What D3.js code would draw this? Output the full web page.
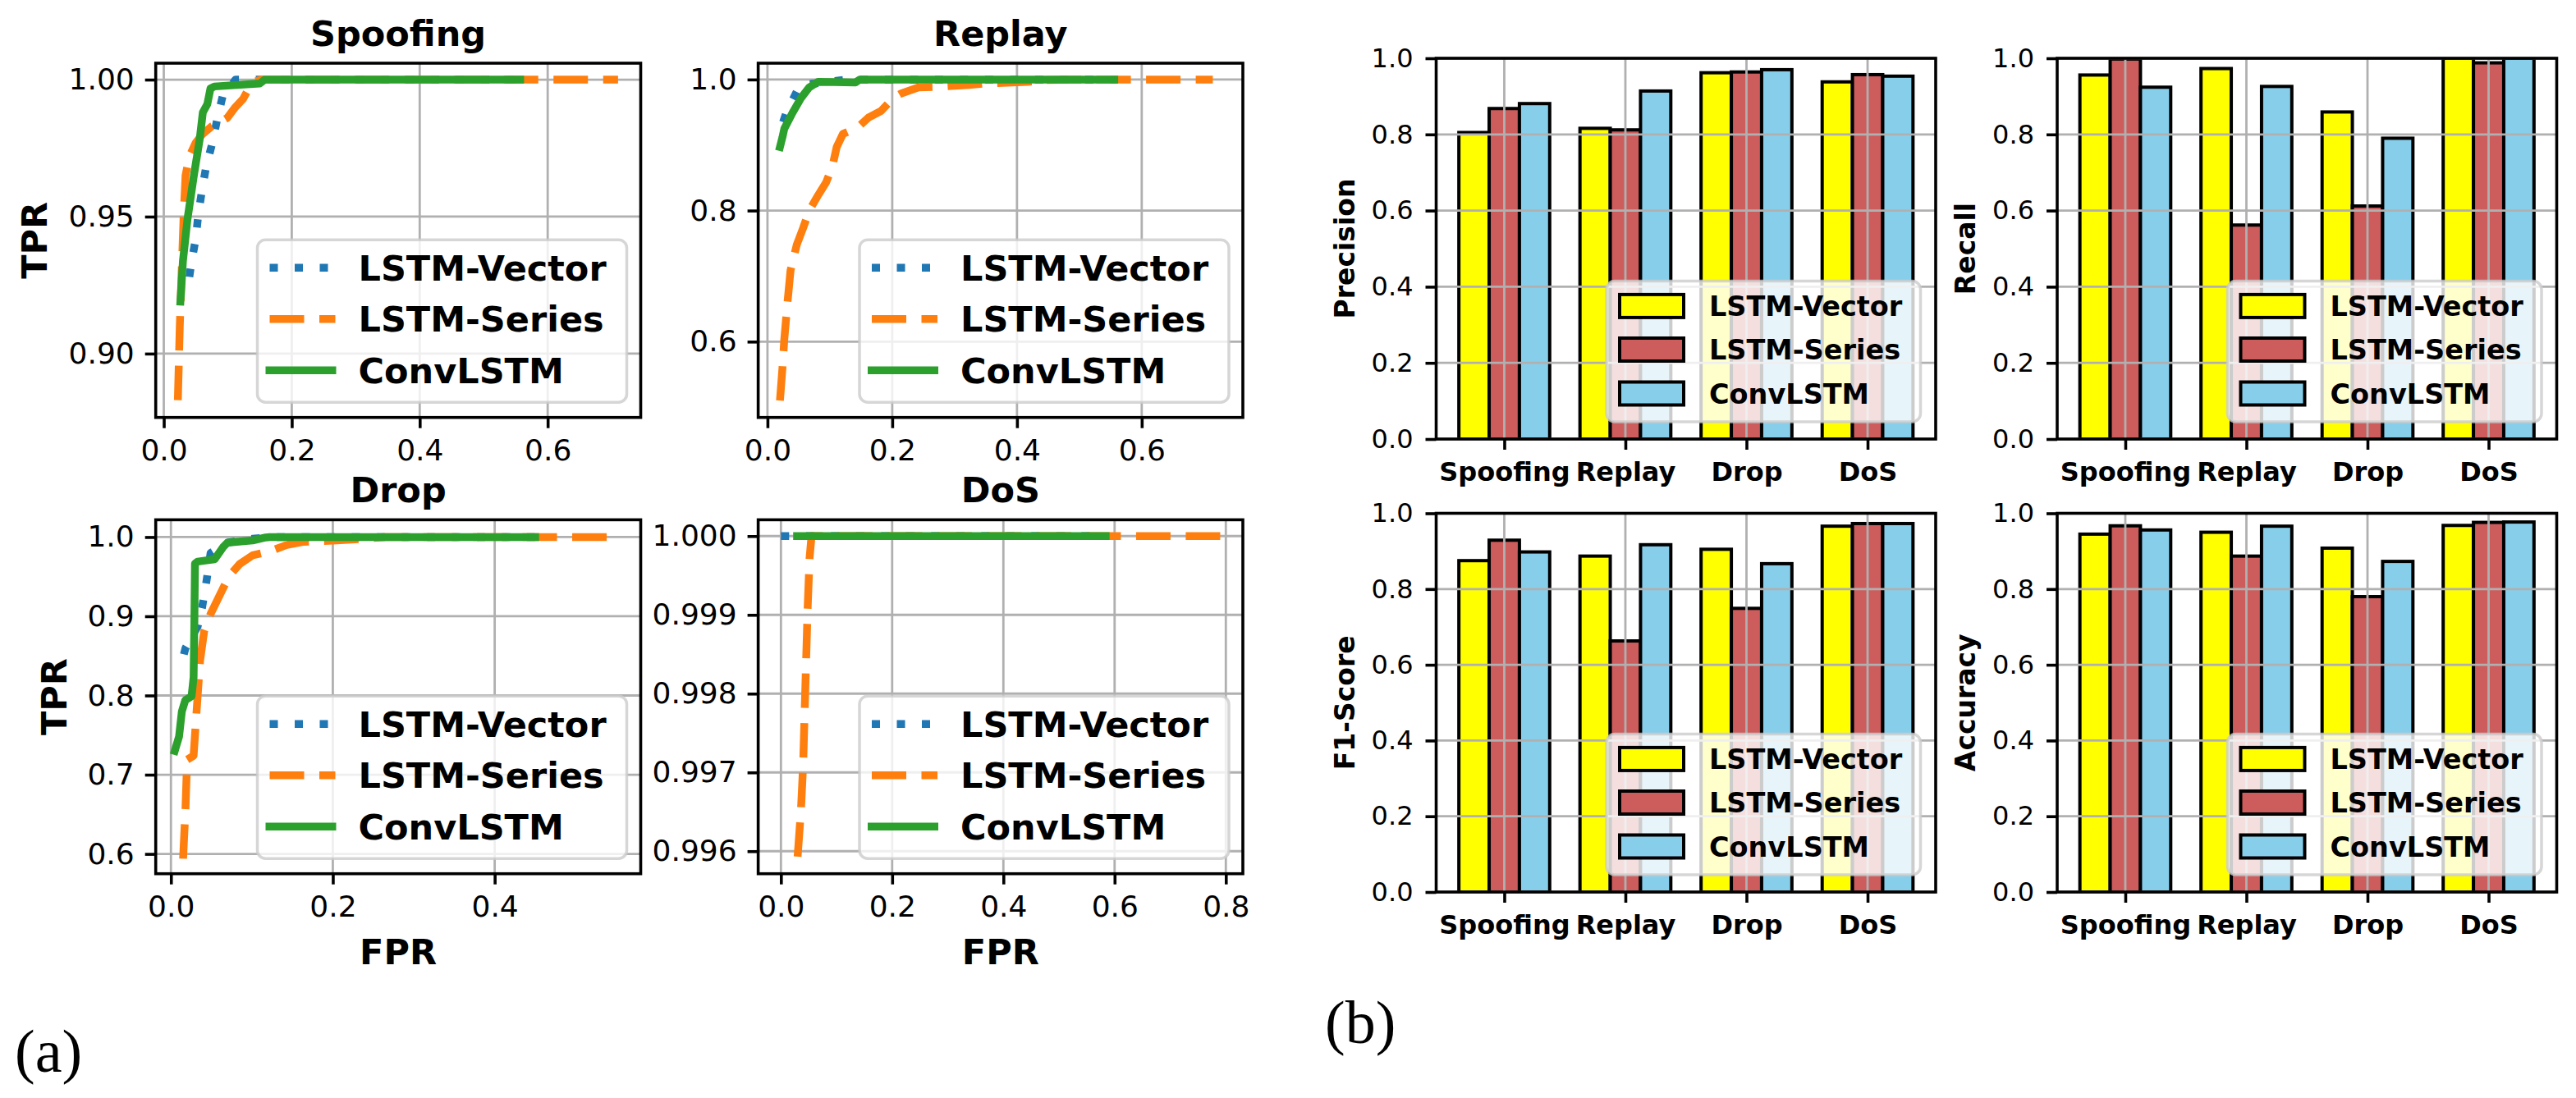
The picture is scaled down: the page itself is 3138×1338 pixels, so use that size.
<!DOCTYPE html>
<html><head><meta charset="utf-8">
<script src="https://cdn.jsdelivr.net/npm/d3@7"></script>
<style>body{margin:0;background:#fff} svg{display:block}</style>
</head><body>
<svg id="chart" width="3138" height="1338"></svg>
<script>
// ---------------- DATA ----------------
const models = ["LSTM-Vector", "LSTM-Series", "ConvLSTM"];
const attacks = ["Spoofing", "Replay", "Drop", "DoS"];

// ROC curves: [FPR, TPR]
const spoofingVector = [[0.040,0.928],[0.043,0.933],[0.050,0.942],[0.054,0.951],[0.060,0.960],[0.066,0.968],[0.076,0.977],[0.083,0.985],[0.092,0.994],[0.100,0.996],[0.112,1.0],[0.565,1.0]];
const spoofingSeries = [[0.022,0.883],[0.025,0.910],[0.028,0.930],[0.031,0.950],[0.034,0.965],[0.040,0.972],[0.050,0.977],[0.060,0.980],[0.075,0.983],[0.085,0.984],[0.099,0.986],[0.112,0.990],[0.124,0.993],[0.138,0.999],[0.152,1.0],[0.710,1.0]];
const spoofingConv = [[0.026,0.919],[0.030,0.934],[0.037,0.949],[0.047,0.965],[0.056,0.978],[0.061,0.988],[0.068,0.991],[0.073,0.9968],[0.079,0.9975],[0.150,0.9986],[0.158,1.0],[0.557,1.0]];

const replayVector = [[0.025,0.935],[0.030,0.949],[0.037,0.962],[0.045,0.978],[0.051,0.989],[0.060,0.992],[0.085,0.995],[0.128,1.0],[0.560,1.0]];
const replaySeries = [[0.020,0.510],[0.024,0.560],[0.027,0.604],[0.032,0.659],[0.037,0.709],[0.047,0.748],[0.057,0.773],[0.067,0.800],[0.081,0.823],[0.094,0.843],[0.104,0.867],[0.111,0.897],[0.121,0.917],[0.145,0.927],[0.162,0.942],[0.182,0.952],[0.202,0.972],[0.215,0.979],[0.242,0.988],[0.276,0.989],[0.323,0.9916],[0.350,0.994],[0.417,0.9965],[0.444,0.999],[0.485,1.0],[0.714,1.0]];
const replayConv = [[0.020,0.897],[0.024,0.912],[0.027,0.925],[0.040,0.949],[0.054,0.972],[0.067,0.988],[0.081,0.9965],[0.141,0.9955],[0.148,1.0],[0.556,1.0]];

const dropVector = [[0.016,0.852],[0.018,0.860],[0.033,0.887],[0.0385,0.911],[0.044,0.945],[0.049,0.980],[0.070,0.993],[0.101,0.998],[0.127,1.0],[0.463,1.0]];
const dropSeries = [[0.015,0.594],[0.018,0.658],[0.020,0.719],[0.028,0.724],[0.031,0.770],[0.036,0.844],[0.041,0.881],[0.049,0.903],[0.059,0.924],[0.072,0.951],[0.085,0.966],[0.101,0.977],[0.122,0.982],[0.143,0.990],[0.163,0.994],[0.205,0.9957],[0.242,0.998],[0.2625,1.0],[0.554,1.0]];
const dropConv = [[0.0047,0.730],[0.010,0.748],[0.0135,0.780],[0.0177,0.794],[0.0255,0.799],[0.028,0.823],[0.029,0.897],[0.0297,0.9665],[0.033,0.969],[0.054,0.972],[0.065,0.988],[0.070,0.993],[0.101,0.9957],[0.117,0.9995],[0.122,1.0],[0.450,1.0]];

const dosVector = [[0.0,1.0],[0.584,1.0]];
const dosSeries = [[0.030,0.99593],[0.036,0.99652],[0.040,0.99711],[0.044,0.99810],[0.048,0.99908],[0.0515,0.99972],[0.055,1.0],[0.790,1.0]];
const dosConv = [[0.029,1.0],[0.584,1.0]];

// ROC tick values
const spoofingYTicks = [0.90, 0.95, 1.00];
const replayYTicks = [0.6, 0.8, 1.0];
const dropYTicks = [0.6, 0.7, 0.8, 0.9, 1.0];
const dosYTicks = [0.996, 0.997, 0.998, 0.999, 1.000];
const fprTicksA = [0.0, 0.2, 0.4, 0.6];
const fprTicksDrop = [0.0, 0.2, 0.4];
const fprTicksDos = [0.0, 0.2, 0.4, 0.6, 0.8];

// Bar metrics: rows = models, columns = attacks
const precision = [[0.805,0.816,0.962,0.938],[0.868,0.812,0.964,0.957],[0.881,0.914,0.970,0.953]];
const recall    = [[0.956,0.973,0.859,1.000],[0.998,0.562,0.612,0.988],[0.924,0.926,0.790,1.000]];
const f1score   = [[0.875,0.887,0.905,0.966],[0.929,0.663,0.749,0.973],[0.898,0.917,0.867,0.973]];
const accuracy  = [[0.945,0.950,0.908,0.968],[0.967,0.887,0.780,0.976],[0.956,0.966,0.873,0.977]];
const barYTicks = [0.0, 0.2, 0.4, 0.6, 0.8, 1.0];

// ---------------- STYLE ----------------
const FONT = "DejaVu Sans";
const lineColors = ["#1f77b4", "#ff7f0e", "#2ca02c"];
const lineDash = ["10,20.5", "42,18.5", null];
const barColors = ["#ffff00", "#cd5c5c", "#87ceeb"];
const GRID = "#b0b0b0";

const svg = d3.select("#chart");
const defs = svg.append("defs");

function styleAxis(sel, size, weight) {
  sel.attr("font-family", FONT).attr("font-size", size).attr("font-weight", weight || "normal");
  sel.select(".domain").remove();
  sel.selectAll(".tick line").attr("stroke", "#000").attr("stroke-width", 3.6);
  sel.selectAll(".tick text").attr("fill", "#000");
}

function lineLegend(g, lx, ly) {
  g.append("rect").attr("x", lx).attr("y", ly).attr("width", 450).attr("height", 198).attr("rx", 10)
    .attr("fill", "#fff").attr("fill-opacity", 0.8).attr("stroke", "#cccccc").attr("stroke-opacity", 0.8).attr("stroke-width", 3.5);
  const offs = [34, 96.5, 159];
  models.forEach((m, i) => {
    const yy = ly + offs[i];
    const l = g.append("line").attr("x1", lx + (i === 2 ? 10 : 15)).attr("x2", lx + (i === 2 ? 96 : 95))
      .attr("y1", yy).attr("y2", yy).attr("stroke", lineColors[i]).attr("stroke-width", 9.5);
    if (lineDash[i]) l.attr("stroke-dasharray", lineDash[i]);
    g.append("text").attr("x", lx + 123).attr("y", yy + 15.5).text(m)
      .attr("font-family", FONT).attr("font-weight", "bold").attr("font-size", 43);
  });
}

function rocPanel(c) {
  const g = svg.append("g");
  const x = d3.scaleLinear().domain(c.xDomain).range([c.x0, c.x1]);
  const y = d3.scaleLinear().domain(c.yDomain).range([c.y1, c.y0]);
  g.append("g").selectAll("line").data(c.xTicks).join("line")
    .attr("x1", d => x(d)).attr("x2", d => x(d)).attr("y1", c.y0).attr("y2", c.y1)
    .attr("stroke", GRID).attr("stroke-width", 2.8);
  g.append("g").selectAll("line").data(c.yTicks).join("line")
    .attr("y1", d => y(d)).attr("y2", d => y(d)).attr("x1", c.x0).attr("x2", c.x1)
    .attr("stroke", GRID).attr("stroke-width", 2.8);
  const cid = "clip-" + c.name;
  defs.append("clipPath").attr("id", cid).append("rect")
    .attr("x", c.x0).attr("y", c.y0).attr("width", c.x1 - c.x0).attr("height", c.y1 - c.y0);
  const line = d3.line().x(d => x(d[0])).y(d => y(d[1]));
  c.series.forEach((s, i) => {
    const p = g.append("path").attr("d", line(s)).attr("fill", "none")
      .attr("stroke", lineColors[i]).attr("stroke-width", 9.5)
      .attr("stroke-linejoin", "round").attr("clip-path", `url(#${cid})`)
      .attr("stroke-linecap", lineDash[i] ? "butt" : "square");
    if (lineDash[i]) p.attr("stroke-dasharray", lineDash[i]);
  });
  g.append("rect").attr("x", c.x0).attr("y", c.y0).attr("width", c.x1 - c.x0).attr("height", c.y1 - c.y0)
    .attr("fill", "none").attr("stroke", "#000").attr("stroke-width", 3.6);
  const ya = g.append("g").attr("transform", `translate(${c.x0},0)`)
    .call(d3.axisLeft(y).tickValues(c.yTicks).tickFormat(d3.format(c.yFmt)).tickSize(13).tickPadding(13));
  styleAxis(ya, 36);
  const xa = g.append("g").attr("transform", `translate(0,${c.y1})`)
    .call(d3.axisBottom(x).tickValues(c.xTicks).tickFormat(d3.format(".1f")).tickSize(13).tickPadding(14));
  styleAxis(xa, 36);
  g.append("text").attr("x", (c.x0 + c.x1) / 2).attr("y", c.y0 - 21.5).attr("text-anchor", "middle")
    .attr("font-family", FONT).attr("font-weight", "bold").attr("font-size", 43).text(c.title);
  if (c.ylabelX) {
    g.append("text").attr("transform", `translate(${c.ylabelX},${(c.y0 + c.y1) / 2}) rotate(-90)`)
      .attr("text-anchor", "middle").attr("font-family", FONT).attr("font-weight", "bold").attr("font-size", 43).text("TPR");
  }
  if (c.xlabel) {
    g.append("text").attr("x", (c.x0 + c.x1) / 2).attr("y", c.y1 + 110.5).attr("text-anchor", "middle")
      .attr("font-family", FONT).attr("font-weight", "bold").attr("font-size", 43).text("FPR");
  }
  lineLegend(g, c.x1 - 467, c.y1 - 216.5);
}

function barPanel(c) {
  const g = svg.append("g");
  const x = d3.scaleLinear().domain([-0.5625, 3.5625]).range([c.x0, c.x1]);
  const y = d3.scaleLinear().domain([0, 1]).range([c.y1, c.y0]);
  const bw = x(0.25) - x(0);
  const cid = "clip-" + c.name;
  defs.append("clipPath").attr("id", cid).append("rect")
    .attr("x", c.x0).attr("y", c.y0).attr("width", c.x1 - c.x0).attr("height", c.y1 - c.y0);
  c.values.forEach((row, m) => {
    g.append("g").attr("clip-path", `url(#${cid})`).selectAll("rect").data(row).join("rect")
      .attr("x", (d, i) => x(i + (m - 1) * 0.25 - 0.125)).attr("width", bw)
      .attr("y", d => y(d)).attr("height", d => y(0) - y(d))
      .attr("fill", barColors[m]).attr("stroke", "#000").attr("stroke-width", 4);
  });
  g.append("g").selectAll("line").data(d3.range(attacks.length)).join("line")
    .attr("x1", d => x(d)).attr("x2", d => x(d)).attr("y1", c.y0).attr("y2", c.y1)
    .attr("stroke", GRID).attr("stroke-width", 2.8);
  g.append("g").selectAll("line").data(barYTicks).join("line")
    .attr("y1", d => y(d)).attr("y2", d => y(d)).attr("x1", c.x0).attr("x2", c.x1)
    .attr("stroke", GRID).attr("stroke-width", 2.8);
  g.append("rect").attr("x", c.x0).attr("y", c.y0).attr("width", c.x1 - c.x0).attr("height", c.y1 - c.y0)
    .attr("fill", "none").attr("stroke", "#000").attr("stroke-width", 3.6);
  const ya = g.append("g").attr("transform", `translate(${c.x0},0)`)
    .call(d3.axisLeft(y).tickValues(barYTicks).tickFormat(d3.format(".1f")).tickSize(13).tickPadding(15));
  styleAxis(ya, 32);
  const xa = g.append("g").attr("transform", `translate(0,${c.y1})`)
    .call(d3.axisBottom(x).tickValues(d3.range(attacks.length)).tickFormat(i => attacks[i]).tickSize(13).tickPadding(15));
  styleAxis(xa, 32, "bold");
  g.append("text").attr("transform", `translate(${c.x0 - 100},${(c.y0 + c.y1) / 2}) rotate(-90)`)
    .attr("text-anchor", "middle").attr("font-family", FONT).attr("font-weight", "bold").attr("font-size", 33).text(c.label);
  // legend
  const lx = c.x1 - 401, ly = c.y1 - 192.5;
  g.append("rect").attr("x", lx).attr("y", ly).attr("width", 382.5).attr("height", 171.5).attr("rx", 10)
    .attr("fill", "#fff").attr("fill-opacity", 0.8).attr("stroke", "#cccccc").attr("stroke-opacity", 0.8).attr("stroke-width", 3.5);
  const offs = [30.4, 83.5, 137];
  models.forEach((m, i) => {
    const yy = ly + offs[i];
    g.append("rect").attr("x", lx + 16).attr("y", yy - 14).attr("width", 78).attr("height", 28)
      .attr("fill", barColors[i]).attr("stroke", "#000").attr("stroke-width", 4);
    g.append("text").attr("x", lx + 125).attr("y", yy + 12).text(m)
      .attr("font-family", FONT).attr("font-weight", "bold").attr("font-size", 33.5);
  });
}

// ---------------- PANELS ----------------
rocPanel({ name: "spoof", title: "Spoofing", x0: 189.7, x1: 780.5, y0: 77, y1: 508.7,
  xDomain: [-0.0126, 0.7454], yDomain: [0.8767, 1.0060], xTicks: fprTicksA, yTicks: spoofingYTicks, yFmt: ".2f",
  series: [spoofingVector, spoofingSeries, spoofingConv], ylabelX: 57.4 });
rocPanel({ name: "replay", title: "Replay", x0: 923.6, x1: 1514, y0: 77, y1: 508.7,
  xDomain: [-0.0149, 0.7621], yDomain: [0.4843, 1.0249], xTicks: fprTicksA, yTicks: replayYTicks, yFmt: ".1f",
  series: [replayVector, replaySeries, replayConv] });
rocPanel({ name: "drop", title: "Drop", x0: 189.7, x1: 780.5, y0: 633.4, y1: 1064.7,
  xDomain: [-0.0188, 0.5804], yDomain: [0.575, 1.0218], xTicks: fprTicksDrop, yTicks: dropYTicks, yFmt: ".1f",
  series: [dropVector, dropSeries, dropConv], ylabelX: 81, xlabel: true });
rocPanel({ name: "dos", title: "DoS", x0: 923.6, x1: 1514, y0: 633.4, y1: 1064.7,
  xDomain: [-0.0409, 0.8306], yDomain: [0.995714, 1.000207], xTicks: fprTicksDos, yTicks: dosYTicks, yFmt: ".3f",
  series: [dosVector, dosSeries, dosConv], xlabel: true });

barPanel({ name: "prec", label: "Precision", values: precision, x0: 1749.5, x1: 2358, y0: 71, y1: 535 });
barPanel({ name: "rec", label: "Recall", values: recall, x0: 2506, x1: 3114.5, y0: 71, y1: 535 });
barPanel({ name: "f1", label: "F1-Score", values: f1score, x0: 1749.5, x1: 2358, y0: 625.5, y1: 1087 });
barPanel({ name: "acc", label: "Accuracy", values: accuracy, x0: 2506, x1: 3114.5, y0: 625.5, y1: 1087 });

svg.append("text").attr("x", 18).attr("y", 1306).attr("font-family", "Liberation Serif").attr("font-size", 74).text("(a)");
svg.append("text").attr("x", 1614).attr("y", 1271).attr("font-family", "Liberation Serif").attr("font-size", 74).text("(b)");
</script>
</body></html>
